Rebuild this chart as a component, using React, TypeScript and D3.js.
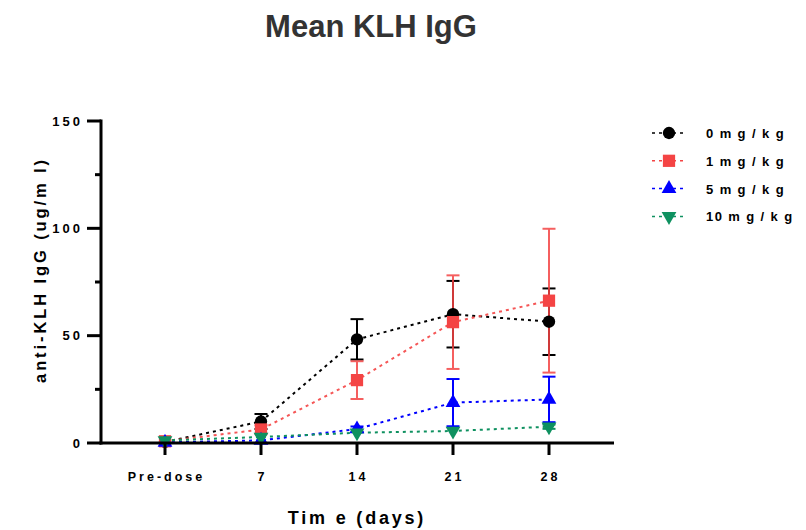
import React from "react";
import * as d3 from "d3";

const categories = ["Pre-dose", "7", "14", "21", "28"];
const series = ["0 mg/kg", "1 mg/kg", "5 mg/kg", "10 mg/kg"];
const legendLabels = ["0  m g / k g", "1  m g / k g", "5  m g / k g", "10  m g / k g"];
const colors = ["#000000", "#f44444", "#0000ff", "#0f9160"];
const markers = ["circle", "square", "triangle", "triangleDown"];

const mean0 = [0.5, 10, 48.3, 60, 56.5];
const err0 = [0.5, 3.5, 9.4, 15.5, 15.5];
const mean1 = [0.8, 6.3, 29.3, 56.3, 66.3];
const err1 = [0.5, 2, 8.8, 21.8, 33.5];
const mean5 = [0.3, 1.2, 6.5, 18.8, 20.3];
const err5 = [0.2, 0.5, 1.2, 11, 10.6];
const mean10 = [1.2, 2.8, 4.8, 5.6, 7.6];
const err10 = [0.2, 0.4, 0.6, 0.8, 1];

const means = [mean0, mean1, mean5, mean10];
const errs = [err0, err1, err5, err10];

const yTicks = [0, 50, 100, 150];
const yMinor = [25, 75, 125];

const W = 806;
const H = 530;
const font = "'Liberation Sans', Arial, sans-serif";

function Marker({ type, x, y, color }: { type: string; x: number; y: number; color: string }) {
  const sym =
    type === "circle" ? d3.symbolCircle : type === "square" ? d3.symbolSquare : d3.symbolTriangle;
  const size = type === "circle" ? 120 : type === "square" ? 150 : 95;
  const p = d3.symbol().type(sym).size(size)() || "";
  const rot = type === "triangleDown" ? 180 : 0;
  return <path d={p} transform={`translate(${x},${y}) rotate(${rot})`} fill={color} />;
}

export default function App() {
  const x = d3.scaleLinear().domain([-64 / 96, 449 / 96]).range([101, 614]);
  const y = d3.scaleLinear().domain([0, 150]).range([443, 121]);
  const line = d3
    .line<number>()
    .x((_, i) => x(i))
    .y((d) => y(d));

  return (
    <svg width={W} height={H} style={{ display: "block", position: "absolute", left: 0, top: 0 }}>
      <rect width={W} height={H} fill="#fff" />
      <text x={371} y={37} textAnchor="middle" fontFamily={font} fontWeight="bold" fontSize={31} fill="#333">
        Mean KLH IgG
      </text>

      {/* series lines */}
      {means.map((m, si) => (
        <path
          key={"l" + si}
          d={line(m) || ""}
          fill="none"
          stroke={colors[si]}
          strokeWidth={2}
          strokeDasharray="3,4"
          opacity={si === 1 ? 0.9 : 1}
        />
      ))}

      {/* error bars */}
      {means.map((m, si) =>
        m.map((v, i) => {
          const e = errs[si][i];
          if (e < 1) return null;
          const cx = x(i);
          return (
            <g key={`e${si}-${i}`} stroke={colors[si]} strokeWidth={2} opacity={si === 1 ? 0.85 : 1}>
              <line x1={cx} x2={cx} y1={y(v - e)} y2={y(v + e)} />
              <line x1={cx - 6.5} x2={cx + 6.5} y1={y(v + e)} y2={y(v + e)} />
              <line x1={cx - 6.5} x2={cx + 6.5} y1={y(v - e)} y2={y(v - e)} />
            </g>
          );
        })
      )}

      {/* markers */}
      {means.map((m, si) =>
        m.map((v, i) => <Marker key={`m${si}-${i}`} type={markers[si]} x={x(i)} y={y(v)} color={colors[si]} />)
      )}

      {/* y axis */}
      <line x1={101} x2={101} y1={119.5} y2={444.5} stroke="#000" strokeWidth={3} />
      {yTicks.map((t) => (
        <g key={"yt" + t}>
          <line x1={87} x2={101} y1={y(t)} y2={y(t)} stroke="#000" strokeWidth={3} />
          <text
            x={83}
            y={y(t) + 4.5}
            textAnchor="end"
            fontFamily={font}
            fontWeight="bold"
            fontSize={13}
            letterSpacing={3}
          >
            {String(t)}
          </text>
        </g>
      ))}
      {yMinor.map((t) => (
        <line key={"ym" + t} x1={95} x2={101} y1={y(t)} y2={y(t)} stroke="#000" strokeWidth={3} />
      ))}

      {/* x axis */}
      <line x1={99.5} x2={614} y1={443} y2={443} stroke="#000" strokeWidth={3} />
      {categories.map((c, i) => (
        <g key={"xt" + c}>
          <line x1={x(i)} x2={x(i)} y1={443} y2={455} stroke="#000" strokeWidth={3} />
          <text
            x={x(i) + 1.5}
            y={481}
            textAnchor="middle"
            fontFamily={font}
            fontWeight="bold"
            fontSize={12.5}
            letterSpacing={3}
          >
            {c}
          </text>
        </g>
      ))}

      <text x={357} y={524} textAnchor="middle" fontFamily={font} fontWeight="bold" fontSize={18} letterSpacing={2.8}>
        Tim e (days)
      </text>
      <text
        transform={`translate(46,270) rotate(-90)`}
        textAnchor="middle"
        fontFamily={font}
        fontWeight="bold"
        fontSize={16.5}
        letterSpacing={2.9}
      >
        anti-KLH IgG (ug/m l)
      </text>

      {/* legend */}
      {series.map((s, si) => {
        const ly = 133 + si * 27.8;
        return (
          <g key={"lg" + s}>
            <line x1={652} x2={687} y1={ly} y2={ly} stroke={colors[si]} strokeWidth={1.5} strokeDasharray="3,4" />
            <Marker type={markers[si]} x={669} y={ly} color={colors[si]} />
            <text x={706} y={ly + 5} fontFamily={font} fontWeight="bold" fontSize={13} letterSpacing={1.4}>
              {legendLabels[si]}
            </text>
          </g>
        );
      })}
    </svg>
  );
}
